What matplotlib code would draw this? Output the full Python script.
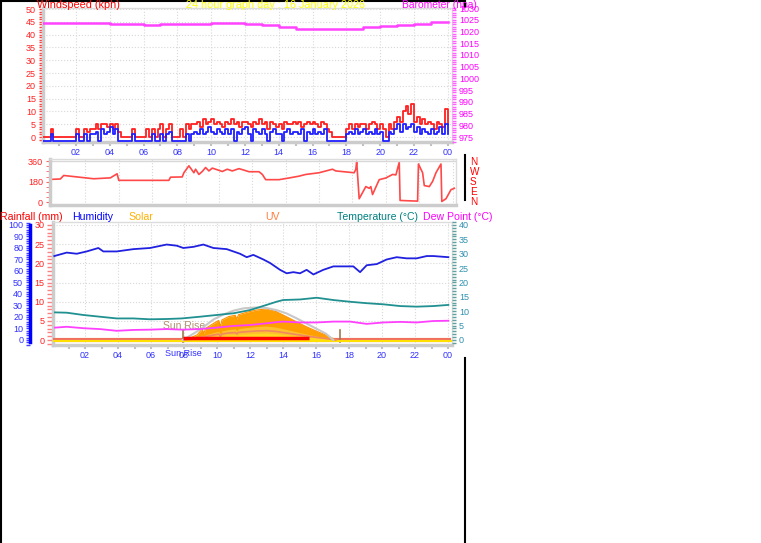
import numpy as np
import matplotlib
matplotlib.use('Agg')
import matplotlib.pyplot as plt
from matplotlib.lines import Line2D
from matplotlib.ticker import MultipleLocator, FixedLocator

W, H = 761, 543
plt.rcParams['font.family'] = ['Liberation Sans', 'DejaVu Sans']

# ---- data -------------------------------------------------------------
# wind gust / average speed (kph), one value every 10 minutes from 00:00
gust = [0, 0, 0, 3, 0, 0,   0, 0, 0, 0, 0, 0,   3, 0, 0, 3, 2, 3,
        3, 5, 3, 5, 5, 4,   5, 3, 5, 2, 0, 0,   0, 0, 3, 0, 0, 0,
        0, 3, 0, 3, 0, 3,   5, 0, 3, 5, 0, 0,   0, 3, 0, 5, 3, 5,
        5, 6, 4, 7, 5, 6,   7, 5, 6, 5, 4, 6,   5, 7, 5, 6, 4, 6,
        6, 5, 4, 6, 5, 7,   5, 6, 3, 6, 5, 4,   5, 3, 6, 5, 5, 6,
        5, 6, 4, 5, 6, 5,   6, 5, 4, 6, 5, 3,   2, 0, 0, 0, 0, 0,
        3, 5, 3, 5, 4, 5,   5, 3, 5, 6, 5, 3,   5, 3, 0, 5, 3, 6,
        8, 6, 10, 12, 9, 13, 6, 8, 5, 7, 5, 6,  5, 3, 6, 5, 4, 11,
        5]
speed = [-1.5, -1.5, -1.5, 1, -1.5, -1.5,   -1.5, -1.5, -1.5, -1.5, -1.5, -1.5,
         1, -1.5, -1.5, 1, -1.5, 1,          1, 2, -1.5, 3, 1, 2,
         4, 1, 3, -1.5, -1.5, -1.5,          -1.5, -1.5, 1, -1.5, -1.5, -1.5,
         -1.5, -1.5, -1.5, 1, -1.5, -1.5,    1, -1.5, 1, 2, -1.5, -1.5,
         -1.5, -1.5, -1.5, 1, -1.5, 1,       2, 1, 3, 1, 2, 4,
         2, 1, 3, 2, 1, 3,                   1, 3, -1.5, 2, 1, 3,
         4, 1, -1.5, 3, 2, 1,                3, 1, -1.5, 2, 3, 1,
         1, -1.5, 2, 3, 1, 2,                2, 1, 3, -1.5, 2, 1,
         3, 1, 2, 1, 3, -1.5,                -1.5, -1.5, -1.5, -1.5, -1.5, -1.5,
         1, 2, 1, 3, 1, 2,                   3, 1, 2, 1, 3, 1,
         2, -1.5, -1.5, 2, 1, 3,             5, 2, 5, 3, 4, 5,
         2, 4, 1, 3, 2, 1,                   3, 1, 2, 4, 1, 5,
         1]
wind_hours = np.arange(len(gust)) / 6.0

baro_hours = list(range(25))
baro = [1023.7, 1023.7, 1023.7, 1023.7, 1023.2, 1023.2, 1022.7, 1023.2, 1023.2,
        1023.2, 1023.7, 1023.7, 1023.2, 1022.7, 1021.8, 1021.2, 1021.2, 1021.2,
        1021.2, 1021.8, 1022.2, 1022.7, 1023.2, 1024.2, 1024.2]

dir_hours = [0.0, 0.5, 0.7, 2.5, 3.5, 3.9, 4.0, 7.0, 7.1, 7.8, 7.9, 8.2, 8.5, 8.6,
             8.8, 9.0, 9.2, 9.4, 9.6, 9.9, 10.2, 10.5, 10.8, 11.2, 11.5, 11.8, 12.4,
             12.6, 12.8, 13.6, 14.2, 14.8, 15.2, 16.0, 16.8, 17.0, 18.1, 18.2, 18.25,
             18.4, 18.8, 19.0, 19.1, 19.2, 19.6, 20.0, 20.4, 20.6, 20.8, 20.85, 21.9,
             21.95, 22.2, 22.3, 22.6, 22.8, 23.0, 23.3, 23.35, 23.6, 23.9, 24.1]
dir_deg = [201, 204, 235, 206, 214, 250, 192, 192, 220, 222, 259, 320, 259, 290,
           244, 270, 305, 275, 300, 285, 270, 290, 275, 295, 282, 268, 268, 244,
           198, 198, 213, 229, 244, 259, 290, 275, 259, 290, 360, 30, 137, 122,
           137, 67, 198, 213, 244, 240, 351, 15, 9, 336, 259, 146, 137, 183, 259,
           336, 6, 30, 110, 122]

hum_hours = [0.14, 0.89, 1.50, 2.10, 2.81, 3.11, 3.92, 4.93, 5.94, 6.95, 7.56, 7.96,
             8.57, 9.17, 9.78, 10.59, 11.39, 11.80, 12.20, 12.81, 13.21, 13.82, 14.22,
             14.63, 15.03, 15.43, 15.84, 16.44, 17.05, 17.66, 18.26, 18.67, 19.07,
             19.68, 20.28, 20.89, 21.49, 22.10, 22.71, 23.11, 24.02]
hum = [73, 76, 75, 77, 80, 77, 77, 79, 80, 83, 82, 80, 81, 83, 80, 79, 75, 72, 74,
       70, 67, 61, 58, 59, 58, 61, 57, 61, 64, 64, 64, 59, 65, 66, 70, 72, 71, 71,
       73, 73, 72]

td_hours = [0.18, 0.89, 1.9, 2.9, 3.92, 4.93, 5.94, 6.95, 7.86, 8.97, 9.98, 11.0,
            12.0, 13.0, 13.6, 14.0, 15.03, 16.04, 17.05, 18.06, 19.07, 20.1, 21.1,
            22.1, 23.1, 24.02]
temp = [9.6, 9.5, 8.7, 8.1, 7.5, 7.5, 7.2, 7.3, 7.5, 8.1, 8.7, 9.3, 10.4, 12.2,
        13.3, 13.9, 14.1, 14.7, 13.9, 13.3, 12.8, 12.4, 11.8, 11.6, 11.8, 12.2]
dew = [4.3, 4.6, 4.1, 3.8, 3.2, 3.5, 3.6, 3.8, 3.6, 3.8, 4.3, 4.9, 5.2, 5.8, 6.2,
       6.4, 6.1, 6.1, 6.4, 6.4, 5.6, 6.1, 6.3, 6.1, 6.6, 6.7]

solar_hours = [7.95, 8.4, 8.8, 9.1, 9.2, 9.3, 9.8, 10.1, 10.2, 10.3, 10.7, 11.1,
               11.2, 11.3, 11.8, 12.4, 13.0, 13.6, 14.2, 14.8, 15.4, 16.0, 16.6,
               17.0, 17.2]
solar = [0, 20, 45, 95, 55, 100, 145, 170, 115, 175, 203, 215, 180, 220, 241, 261,
         270, 246, 203, 159, 116, 78, 43, 15, 0]
solar_max_hours = [7.92, 8.4, 8.8, 9.2, 9.8, 10.4, 11.0, 11.6, 12.4, 13.0, 13.6,
                   14.2, 14.8, 15.4, 16.0, 16.6, 17.05]
solar_max = [0, 40, 75, 115, 180, 222, 255, 275, 283, 278, 260, 232, 190, 145, 100,
             55, 0]
uv_hours = [7.95, 15.6]
uv = [0, 0]
rain_hours = [0.05, 24.2]
rain = [0, 0]
sunrise, sunset = 7.92, 17.45
hour_ticks = list(range(2, 25, 2))
hour_labels = ['02', '04', '06', '08', '10', '12', '14', '16', '18', '20', '22', '00']


def rect(l, t, r, b):
    return [l / W, 1 - b / H, (r - l) / W, (b - t) / H]


def frame(ax, grid_y=True):
    ax.set_facecolor('white')
    for s in ax.spines.values():
        s.set_color('#DCDCDC')
        s.set_linewidth(1)
    ax.spines['left'].set_linewidth(2.5)
    ax.spines['bottom'].set_linewidth(2.5)
    ax.spines['left'].set_color('#CCCCCC')
    ax.spines['bottom'].set_color('#CCCCCC')
    ax.grid(True, which='major', axis='x', color='#D8D8D8', ls=':', lw=0.8)
    if grid_y:
        ax.grid(True, which='major', axis='y', color='#D8D8D8', ls=':', lw=0.8)


fig = plt.figure(figsize=(W / 100, H / 100), dpi=100)
fig.patch.set_facecolor('white')

# ---- panel 1: wind speed & barometer ---------------------------------
ax1 = fig.add_axes(rect(43, 8, 452, 142))
frame(ax1)
ax1.plot(wind_hours, gust, drawstyle='steps-post', color='#FF2020', lw=1.3, zorder=3)
ax1.plot(wind_hours, speed, drawstyle='steps-post', color='#2020FF', lw=1.3, zorder=4)
ax1.set_xlim(0.05, 24.25)
ax1.set_ylim(-1.95, 50.4)
ax1.yaxis.set_major_locator(MultipleLocator(5))
ax1.yaxis.set_minor_locator(MultipleLocator(1))
ax1.tick_params(axis='y', which='both', colors='#FF4040', labelcolor='#FF2020',
                labelsize=6.5, length=3, width=1, pad=2)
ax1.xaxis.set_major_locator(FixedLocator(hour_ticks))
ax1.xaxis.set_minor_locator(MultipleLocator(1))
ax1.set_xticklabels(hour_labels)
ax1.tick_params(axis='x', which='both', colors='#C0C0C0', labelcolor='#3030FF',
                labelsize=6.5, length=3, width=1.5, pad=1)

axb = ax1.twinx()
axb.plot(baro_hours, baro, drawstyle='steps-post', color='#FF44FF', lw=1.8, zorder=3)
axb.set_ylim(972.87, 1030.0)
axb.yaxis.set_major_locator(MultipleLocator(5))
axb.yaxis.set_minor_locator(MultipleLocator(1))
axb.tick_params(axis='y', which='both', colors='#FF60FF', labelcolor='#FF00FF',
                labelsize=6.5, length=3, width=1, pad=2)
for s in axb.spines.values():
    s.set_visible(False)

fig.text(37 / W, 1 - 8 / H, 'Windspeed (kph)', color='#FF0000', fontsize=7.8, va='baseline')
fig.text(186 / W, 1 - 8 / H, '24 hour graph day : 16 January 2026', color='#FFFF00',
         fontsize=7.8, va='baseline')
fig.text(402 / W, 1 - 8 / H, 'Barometer (hpa)', color='#FF00FF', fontsize=7.4, va='baseline')

# ---- panel 2: wind direction ------------------------------------------
ax2 = fig.add_axes(rect(50, 159, 456, 205))
frame(ax2, grid_y=False)
ax2.plot(dir_hours, dir_deg, color='#FF4848', lw=1.2)
ax2.axhline(360, color='#D8D8D8', lw=1)
ax2.set_xlim(-0.12, 24.2)
ax2.set_ylim(-25, 380)
ax2.set_yticks([0, 180, 360])
ax2.yaxis.set_minor_locator(MultipleLocator(45))
ax2.tick_params(axis='y', which='both', colors='#FF6060', labelcolor='#FF2020',
                labelsize=6.5, length=3, pad=2)
ax2.xaxis.set_major_locator(FixedLocator(hour_ticks))
ax2.tick_params(axis='x', which='both', length=0, labelbottom=False)

for lab, y in zip(['N', 'W', 'S', 'E', 'N'], [162, 172, 182, 192, 202]):
    fig.text(470 / W, 1 - y / H, lab, color='#FF0000', fontsize=7.2, va='center')

# ---- panel 3: humidity, rain, solar, temperature -----------------------
ax3 = fig.add_axes(rect(53, 222, 452, 345))
frame(ax3)
ax3.set_xlim(0.06, 24.24)
ax3.set_ylim(-1.3, 30.78)
ax3.plot(rain_hours, rain, color='#F07060', lw=3, zorder=6, solid_capstyle='butt')
ax3.yaxis.set_major_locator(MultipleLocator(5))
ax3.yaxis.set_minor_locator(MultipleLocator(1))
ax3.tick_params(axis='y', which='both', colors='#FF8080', labelcolor='#FF2020',
                labelsize=6.5, length=4, width=1, pad=2)
ax3.xaxis.set_major_locator(FixedLocator(hour_ticks))
ax3.xaxis.set_minor_locator(MultipleLocator(1))
ax3.set_xticklabels(hour_labels)
ax3.tick_params(axis='x', which='both', colors='#C0C0C0', labelcolor='#3030FF',
                labelsize=6.5, length=3, width=1.5, pad=1)

axs = ax3.twinx()
axs.set_ylim(-43.5, 1026)
axs.fill_between(solar_hours, solar, 0, color='#FFA000', lw=0, zorder=1)
axs.plot(solar_hours, solar, color='#FF9000', lw=0.8, zorder=1)
axs.fill_between(solar_hours, np.array(solar) * 0.45, 0, color='#FFC030', lw=0, zorder=2)
axs.plot(solar_hours, np.array(solar) * 0.3, color='#F08860', lw=1.2, zorder=3)
axs.fill_between(solar_hours, np.array(solar) * 0.22, 0, color='#FFD820', lw=0, zorder=2)
axs.plot(solar_max_hours, solar_max, color='#C8C8C8', lw=1.5, zorder=4)
axs.plot([0.06, 24.24], [-12, -12], color='#FFE000', lw=1.5, zorder=2)
axs.plot(uv_hours, np.array(uv) + 20, color='#FF0000', lw=2.5, zorder=5,
         solid_capstyle='butt')
axs.set_yticks([])
for s in axs.spines.values():
    s.set_visible(False)

axt = ax3.twinx()
axt.set_ylim(-1.74, 41.04)
axt.plot(td_hours, temp, color='#209090', lw=1.3, zorder=5)
axt.plot(td_hours, dew, color='#FF40FF', lw=1.3, zorder=5)
axt.yaxis.set_major_locator(MultipleLocator(5))
axt.yaxis.set_minor_locator(MultipleLocator(1))
axt.tick_params(axis='y', which='both', colors='#60A0A0', labelcolor='#3090B0',
                labelsize=6.5, length=3, width=1, pad=2)
for s in axt.spines.values():
    s.set_visible(False)

axh = ax3.twinx()
axh.set_ylim(-4.35, 102.6)
axh.plot(hum_hours, hum, color='#2020E0', lw=1.3, zorder=5)
axh.yaxis.set_label_position('left')
axh.yaxis.tick_left()
for s in axh.spines.values():
    s.set_visible(False)
axh.spines['left'].set_visible(True)
axh.spines['left'].set_position(('outward', 16.5))
axh.spines['left'].set_color('#0000FF')
axh.spines['left'].set_linewidth(2.5)
axh.spines['left'].set_bounds(-2, 100)
axh.yaxis.set_major_locator(MultipleLocator(10))
axh.yaxis.set_minor_locator(MultipleLocator(2))
axh.tick_params(axis='y', which='both', colors='#4040FF', labelcolor='#3030FF',
                labelsize=6.5, length=3, width=1, pad=2)

for h in (sunrise, sunset):
    ax3.plot([h, h], [-0.5, 2.5], color='#A07850', lw=1.2, zorder=7)
ax3.text(6.7, 3.0, 'Sun Rise', color='#B09070', fontsize=7.5, zorder=7)
fig.text(165 / W, 1 - 356 / H, 'Sun Rise', color='#3030FF', fontsize=6.5, va='baseline')

for txt, x, c in [('Rainfall (mm)', 0, '#FF0000'), ('Humidity', 72, '#0000FF'),
                  ('Solar', 128, '#FFB000'), ('UV', 265, '#FF8040'),
                  ('Temperature (°C)', 337, '#008080'), ('Dew Point (°C)', 423, '#FF00FF')]:
    fig.text(x / W, 1 - 220 / H, txt, color=c, fontsize=7.6, va='baseline')

# ---- black page borders -------------------------------------------------
def vline(x, y0, y1):
    fig.add_artist(Line2D([x / W, x / W], [1 - y0 / H, 1 - y1 / H], color='black',
                          lw=1.5, transform=fig.transFigure))

vline(0.5, 0, H)
vline(465, 0, 7)
vline(465, 155, 200)
vline(465, 358, H)
fig.add_artist(Line2D([0, 465 / W], [1 - 0.5 / H, 1 - 0.5 / H], color='black', lw=1.5,
                      transform=fig.transFigure))

fig.savefig('out.png', dpi=100, facecolor='white')
